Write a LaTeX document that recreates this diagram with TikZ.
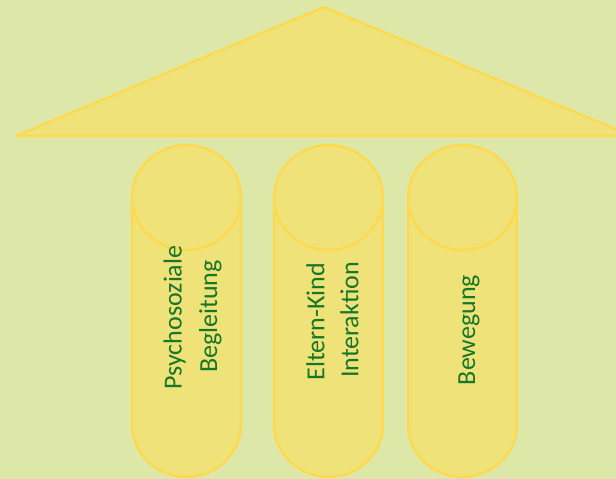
\documentclass[tikz,border=0pt]{standalone}
\usepackage{fontspec}
\setmainfont{Carlito}
\definecolor{bg}{RGB}{221,232,168}
\definecolor{fillY}{RGB}{238,226,120}
\definecolor{edgeY}{RGB}{255,217,76}
\definecolor{txtG}{RGB}{22,118,42}
\begin{document}
\begin{tikzpicture}[x=1pt,y=-1pt,
  part/.style={fill=fillY,draw=edgeY,line width=2.3pt,line join=round},
  label/.style={text=txtG,font=\fontsize{26}{35}\selectfont,rotate=90,anchor=base,inner sep=0pt}]
\fill[bg] (0,0) rectangle (616,479);
\useasboundingbox (0,0) rectangle (616,479);
\clip (0,0) rectangle (616,479);
% roof
\draw[part] (16,136) -- (324,7) -- (632,136) -- cycle;
% columns
\foreach \l/\n in {132/a,274/b,408/c}{
  \draw[part] (\l,197.5) -- (\l,424.5) arc[start angle=180,end angle=0,x radius=54.5,y radius=52.5]
     -- ({\l+109},197.5) -- cycle;
  \draw[part] ({\l+54.5},197.5) ellipse[x radius=54.5,y radius=52.5];
}
\node[label] (p1) at (181.5,317.5) {Psychosoziale};
\node[label] (p2) at (217,316.5) {Begleitung};
\node[label] (e1) at (324.3,321.5) {Eltern-Kind};
\node[label] (e2) at (358.3,320) {Interaktion};
\node[label] (b1) at (475,330) {Bewegung};
\end{tikzpicture}
\end{document}
